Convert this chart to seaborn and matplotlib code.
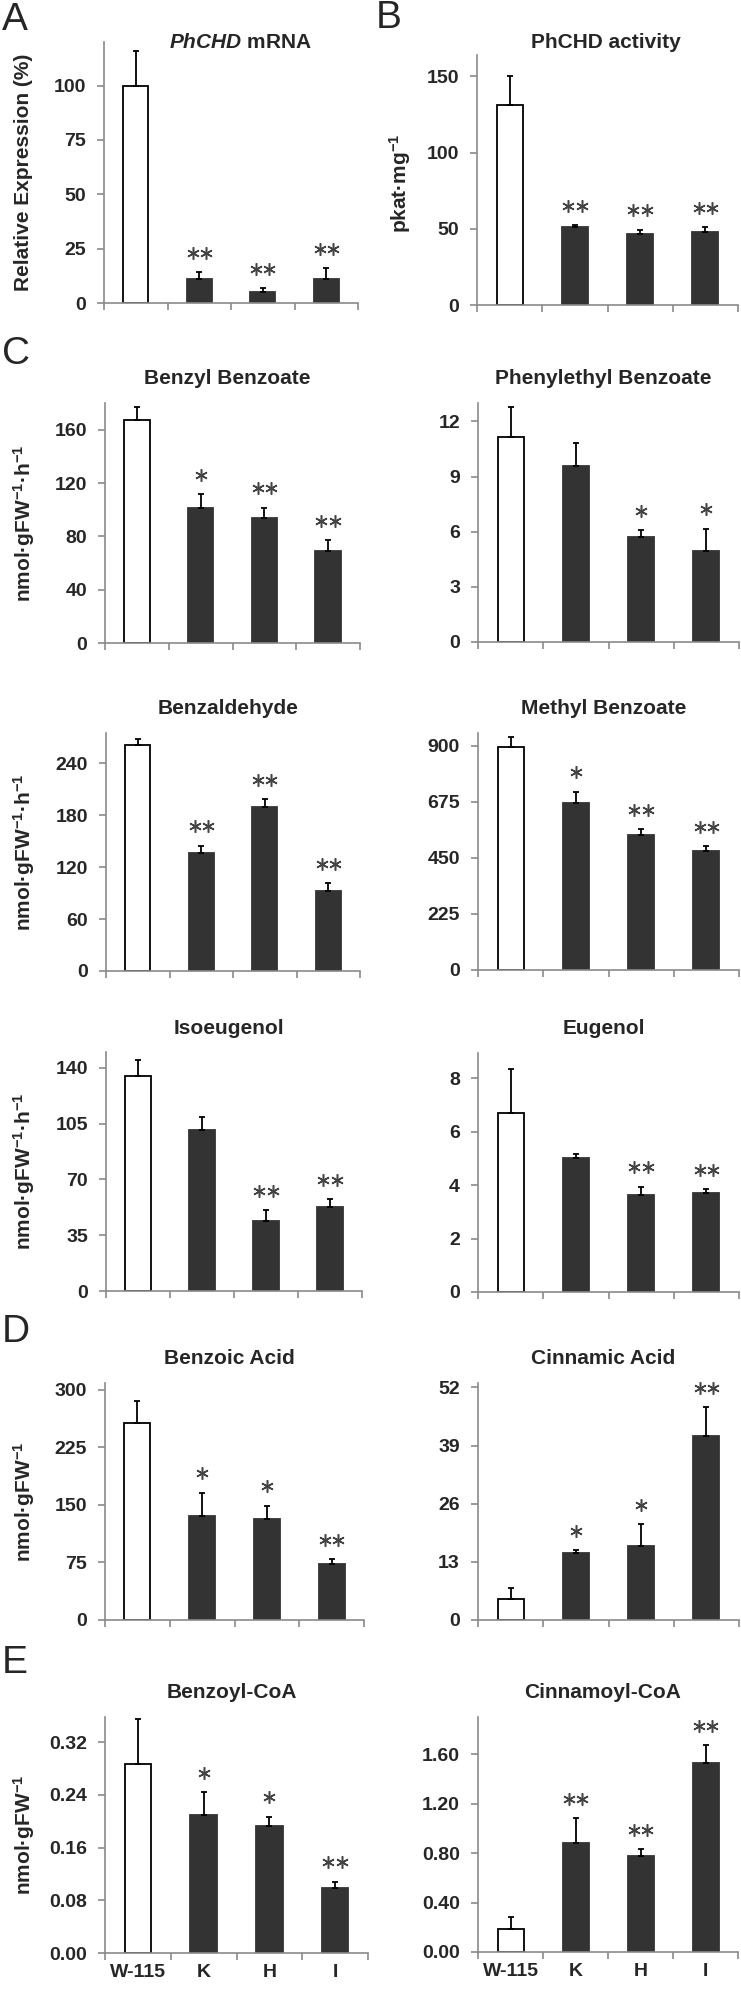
import numpy as np
import pandas as pd
import seaborn as sns
import matplotlib.pyplot as plt
from matplotlib.transforms import offset_copy

sns.set_style("ticks")
plt.rcParams["font.family"] = ["Liberation Sans", "DejaVu Sans"]
plt.rcParams["mathtext.fontset"] = "custom"
plt.rcParams["mathtext.rm"] = "Liberation Sans:bold"
plt.rcParams["mathtext.bf"] = "Liberation Sans:bold"
plt.rcParams["mathtext.it"] = "Liberation Sans:italic:bold"

lines = ["W-115", "K", "H", "I"]

# A / B
mrna = [100, 11, 4.9, 11]
mrna_err = [16, 3.1, 2.0, 5.0]
mrna_sig = ["", "**", "**", "**"]
activity = [131, 51.3, 46.7, 48.2]
activity_err = [19, 1.1, 2.8, 2.7]
activity_sig = ["", "**", "**", "**"]

# C  volatiles
benzyl_bz = [167.5, 101, 94, 69]
benzyl_bz_err = [9.2, 10.4, 7.5, 8.0]
benzyl_bz_sig = ["", "*", "**", "**"]
phenylethyl_bz = [11.15, 9.55, 5.7, 4.95]
phenylethyl_bz_err = [1.65, 1.25, 0.37, 1.2]
phenylethyl_bz_sig = ["", "", "*", "*"]
benzaldehyde = [261, 136, 190, 93]
benzaldehyde_err = [7.5, 9, 8.4, 8.3]
benzaldehyde_sig = ["", "**", "**", "**"]
methyl_bz = [895, 672, 544, 478]
methyl_bz_err = [42, 44, 21, 20]
methyl_bz_sig = ["", "*", "**", "**"]
isoeugenol = [135, 101, 44, 53]
isoeugenol_err = [9.8, 8, 6.7, 4.6]
isoeugenol_sig = ["", "", "**", "**"]
eugenol = [6.72, 5.0, 3.65, 3.71]
eugenol_err = [1.62, 0.16, 0.29, 0.13]
eugenol_sig = ["", "", "**", "**"]

# D  acids
benzoic = [257, 135, 132, 73]
benzoic_err = [28.6, 31, 17, 6]
benzoic_sig = ["", "*", "*", "**"]
cinnamic = [4.75, 14.9, 16.6, 41.1]
cinnamic_err = [2.3, 0.7, 4.8, 6.5]
cinnamic_sig = ["", "*", "*", "**"]

# E  CoA esters
benzoyl_coa = [0.286, 0.209, 0.193, 0.099]
benzoyl_coa_err = [0.069, 0.035, 0.014, 0.009]
benzoyl_coa_sig = ["", "*", "*", "**"]
cinnamoyl_coa = [0.19, 0.88, 0.78, 1.53]
cinnamoyl_coa_err = [0.094, 0.2, 0.05, 0.14]
cinnamoyl_coa_sig = ["", "**", "**", "**"]

W, H = 741, 1991
fig = plt.figure(figsize=(W / 100, H / 100), dpi=100)
gray = "#8a8a8a"
dark = "#333333"
palette = {"W-115": "white", "K": dark, "H": dark, "I": dark}


def add_ax(l, t, r, b):
    return fig.add_axes([l / W, 1 - b / H, (r - l) / W, (b - t) / H])


def ylab(x, y, text):
    fig.text(x / W, 1 - y / H, text, rotation=90, ha="center", va="center",
             fontsize=15, fontweight="bold")


def panel(box, vals, errs, sig, ticks, ymax, title, fmt="{:g}", ylabel=None,
          xlabels=False, title_y=None, title_x=None):
    ax = add_ax(*box)
    df = pd.DataFrame({"line": lines, "value": vals})
    sns.barplot(data=df, x="line", y="value", hue="line", palette=palette,
                width=0.4, saturation=1, legend=False, ax=ax)
    for i, p in enumerate(ax.patches):
        p.set_edgecolor("black" if i == 0 else dark)
        p.set_linewidth(1.3)
    ax.errorbar(range(4), vals, yerr=[np.zeros(4), errs], fmt="none",
                ecolor="black", elinewidth=1.3, capsize=2.5, capthick=1.3)
    for i, s in enumerate(sig):
        n = s.count("*")
        offs = [0] if n == 1 else ([-4.8, 4.8] if n == 2 else [])
        for dx in offs:
            tr = offset_copy(ax.transData, fig=fig, x=dx, y=14, units="points")
            ax.plot(i, vals[i] + errs[i], marker=(6, 2, 0), ms=9,
                    mec="#444444", mew=1.1, transform=tr, clip_on=False)
    ax.set_xlim(-0.5, 3.5)
    ax.set_ylim(0, ymax)
    ax.set_yticks(ticks)
    ax.set_yticklabels([fmt.format(t) for t in ticks], fontsize=14,
                       fontweight="bold")
    ax.set_xticks(range(4))
    ax.set_xticklabels(lines if xlabels else [""] * 4, fontsize=14,
                       fontweight="bold")
    ax.set_xticks([-0.5, 0.5, 1.5, 2.5, 3.5], minor=True)
    ax.tick_params(axis="x", which="major", length=0, pad=8)
    ax.tick_params(axis="x", which="minor", length=5, color=gray, width=1.2)
    ax.tick_params(axis="y", length=5, color=gray, width=1.2, pad=8)
    ax.set_xlabel("")
    ax.set_ylabel("")
    sns.despine(ax=ax)
    for sp in ["left", "bottom"]:
        ax.spines[sp].set_color(gray)
        ax.spines[sp].set_linewidth(1.2)
    l, t, r, b = box
    tx = title_x if title_x is not None else (l + r) / 2 - 5
    ty = title_y if title_y is not None else t - 24
    fig.text(tx / W, 1 - ty / H, title, ha="center", va="center",
             fontsize=15, fontweight="bold")
    if ylabel:
        ylab(24, (t + b) / 2, ylabel)
    return ax


rate = r"nmol·gFW$^{-1}$·h$^{-1}$"
fw = r"nmol·gFW$^{-1}$"

panel((104, 42, 358, 303), mrna, mrna_err, mrna_sig, [0, 25, 50, 75, 100], 120,
      r"$\it{PhCHD}$ mRNA", ylabel="Relative Expression (%)", title_y=43,
      title_x=240)
panel((477, 55, 738, 305), activity, activity_err, activity_sig,
      [0, 50, 100, 150], 164, "PhCHD activity", title_y=42, title_x=606)
ylab(400, 183, r"pkat·mg$^{-1}$")

panel((105, 403, 360, 643), benzyl_bz, benzyl_bz_err, benzyl_bz_sig,
      [0, 40, 80, 120, 160], 180, "Benzyl Benzoate", ylabel=rate)
panel((478, 403, 739, 642), phenylethyl_bz, phenylethyl_bz_err,
      phenylethyl_bz_sig, [0, 3, 6, 9, 12], 13.0, "Phenylethyl Benzoate")
panel((106, 733, 360, 971), benzaldehyde, benzaldehyde_err, benzaldehyde_sig,
      [0, 60, 120, 180, 240], 275, "Benzaldehyde", ylabel=rate)
panel((478, 733, 739, 970), methyl_bz, methyl_bz_err, methyl_bz_sig,
      [0, 225, 450, 675, 900], 952, "Methyl Benzoate")
panel((106, 1052, 362, 1291), isoeugenol, isoeugenol_err, isoeugenol_sig,
      [0, 35, 70, 105, 140], 150, "Isoeugenol", ylabel=rate)
panel((478, 1053, 739, 1292), eugenol, eugenol_err, eugenol_sig,
      [0, 2, 4, 6, 8], 8.95, "Eugenol")
panel((105, 1383, 364, 1620), benzoic, benzoic_err, benzoic_sig,
      [0, 75, 150, 225, 300], 309, "Benzoic Acid", ylabel=fw)
panel((478, 1383, 739, 1620), cinnamic, cinnamic_err, cinnamic_sig,
      [0, 13, 26, 39, 52], 53, "Cinnamic Acid")
panel((105, 1717, 368, 1953), benzoyl_coa, benzoyl_coa_err, benzoyl_coa_sig,
      [0, 0.08, 0.16, 0.24, 0.32], 0.358, "Benzoyl-CoA", fmt="{:.2f}",
      ylabel=fw, xlabels=True)
panel((478, 1717, 738, 1952), cinnamoyl_coa, cinnamoyl_coa_err,
      cinnamoyl_coa_sig, [0, 0.4, 0.8, 1.2, 1.6], 1.9, "Cinnamoyl-CoA",
      fmt="{:.2f}", xlabels=True)

for letter, x, y in [("A", 2, 2), ("B", 376, 0), ("C", 2, 336),
                     ("D", 2, 1314), ("E", 2, 1645)]:
    fig.text(x / W, 1 - y / H, letter, ha="left", va="top", fontsize=28)

fig.savefig("out.png", dpi=100)
